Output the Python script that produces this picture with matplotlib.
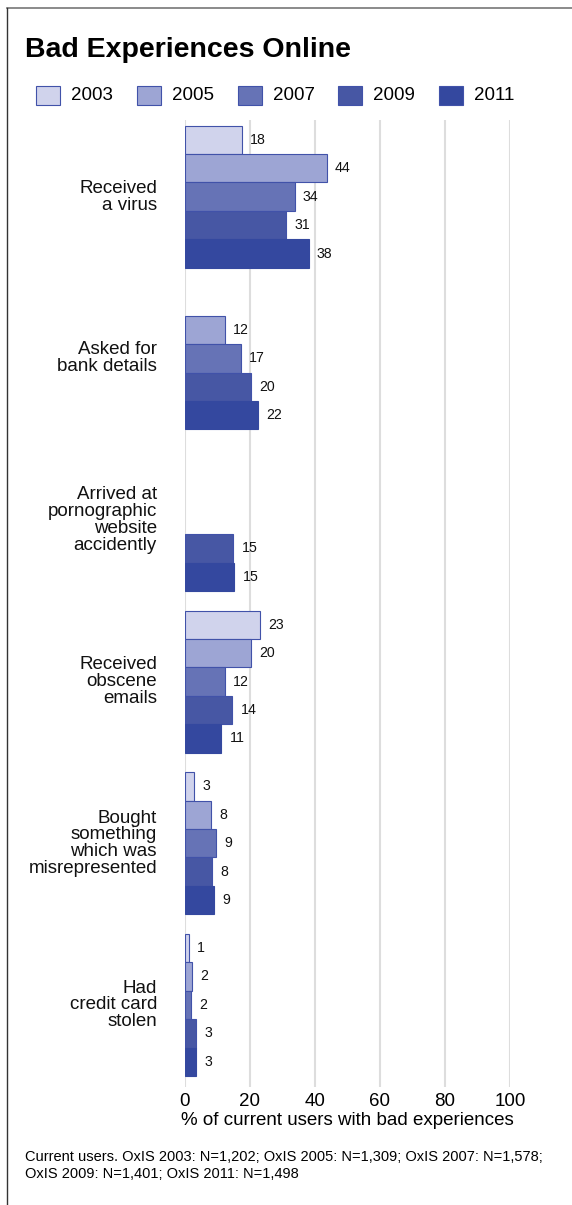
import matplotlib
matplotlib.use('Agg')
import matplotlib.pyplot as plt
from matplotlib.lines import Line2D
from matplotlib.patches import Rectangle

plt.rcParams['font.family'] = ['Liberation Sans', 'DejaVu Sans']

# data ---------------------------------------------------------------
categories = ['Received\na virus', 'Asked for\nbank details',
              'Arrived at\npornographic\nwebsite\naccidently',
              'Received\nobscene\nemails', 'Bought\nsomething\nwhich was\nmisrepresented',
              'Had\ncredit card\nstolen']
years = ['2003', '2005', '2007', '2009', '2011']
v2003 = [17.5, None, None, 23.1, 2.9, 1.1]
v2005 = [43.6, 12.3, None, 20.4, 7.9, 2.25]
v2007 = [33.7, 17.2, None, 12.3, 9.4, 1.75]
v2009 = [31.2, 20.3, 14.8, 14.5, 8.3, 3.3]
v2011 = [38.0, 22.5, 15.2, 11.1, 9.0, 3.4]
series = [v2003, v2005, v2007, v2009, v2011]
xticks = [0, 20, 40, 60, 80, 100]

fills = ['#d0d3ec', '#9da5d4', '#6673b6', '#4757a4', '#34489f']
edge = '#4152a9'

W, H = 572, 1205
fig = plt.figure(figsize=(W / 100, H / 100), dpi=100)

ax_top, ax_bot = 120, 1087
ax = fig.add_axes([185 / W, 1 - ax_bot / H, (510 - 185) / W, (ax_bot - ax_top) / H])

period = 5.69
for g in range(len(categories)):
    for k, vals in enumerate(series):
        v = vals[g]
        if v is None:
            continue
        y = g * period + k + 0.5
        ax.barh(y, v, height=1.0, color=fills[k], edgecolor=edge if k < 4 else fills[k],
                linewidth=0.8, zorder=3)
        ax.annotate(str(int(round(v))), xy=(v, y), xytext=(6, 0), textcoords='offset points',
                    ha='left', va='center', fontsize=10.2, color='#111111')
    ax.text(-28 / 3.25, g * period + 2.5, categories[g], ha='right', va='center',
            multialignment='right', fontsize=13.5, linespacing=0.98, color='#111111')

ax.set_xlim(0, 100)
ax.set_ylim(5 * period + 5.39, -0.2)
ax.set_yticks([])
ax.set_xticks(xticks)
ax.set_xticklabels([str(t) for t in xticks], fontsize=13.5)
ax.tick_params(axis='x', length=0, pad=4)
for t in xticks:
    ax.axvline(t, color='#dddddd', linewidth=1.5, zorder=1)
for s in ax.spines.values():
    s.set_visible(False)
ax.set_xlabel('% of current users with bad experiences', fontsize=13.5, labelpad=1.5)

# title, legend, footnote
fig.text(25 / W, 1 - 50 / H, 'Bad Experiences Online', fontsize=20.5, fontweight='bold',
         va='center', ha='left')
for i, yr in enumerate(years):
    x0 = 36 + i * 100.75
    fig.patches.append(Rectangle((x0 / W, 1 - 105 / H), 24 / W, 19 / H, transform=fig.transFigure,
                                 facecolor=fills[i], edgecolor=edge, linewidth=0.8))
    fig.text((x0 + 35) / W, 1 - 96 / H, yr, fontsize=13.5, va='center', ha='left')

fig.text(25 / W, 1 - 1165.5 / H,
         'Current users. OxIS 2003: N=1,202; OxIS 2005: N=1,309; OxIS 2007: N=1,578;\n'
         'OxIS 2009: N=1,401; OxIS 2011: N=1,498',
         fontsize=10.5, va='center', ha='left', linespacing=1.25)

# frame lines
fig.lines.append(Line2D([7 / W, 1], [1 - 8 / H, 1 - 8 / H], transform=fig.transFigure,
                        color='#777777', linewidth=1.2))
fig.lines.append(Line2D([7 / W, 7 / W], [1 - 8 / H, 0], transform=fig.transFigure,
                        color='#333333', linewidth=1.0))

plt.savefig('out.png', dpi=100)
